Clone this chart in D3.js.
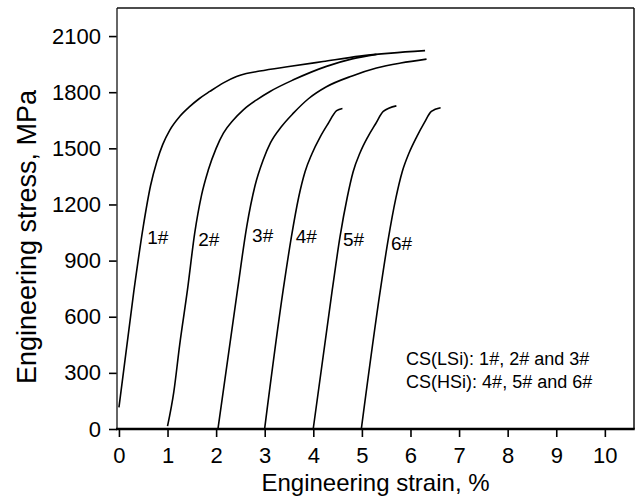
<!DOCTYPE html>
<html>
<head>
<meta charset="utf-8">
<script src="https://cdn.jsdelivr.net/npm/d3@7"></script>
<style>
  html, body { margin: 0; padding: 0; background: #fff; }
  svg { display: block; }
  text { font-family: "Liberation Sans", Arial, Helvetica, sans-serif; fill: #000; }
</style>
</head>
<body>
<svg id="chart" width="637" height="501"></svg>
<script>
// ---------------- data ----------------
const curveNames = ["1#", "2#", "3#", "4#", "5#", "6#"];
// [strain %, stress MPa]
const curve1 = [[0,116],[0.31,743],[0.50,1082],[0.65,1300],[0.78,1430],[0.90,1520],[1.05,1599],[1.25,1670],[1.46,1724],[1.65,1765],[1.87,1804],[2.15,1850],[2.42,1884],[2.62,1900],[2.90,1913],[3.50,1937],[4.20,1964],[4.96,1993],[5.60,2009],[6.30,2022]];
const curve2 = [[1.00,15],[1.13,200],[1.25,450],[1.41,743],[1.56,1048],[1.70,1250],[1.84,1385],[2.00,1500],[2.15,1581],[2.35,1650],[2.56,1706],[2.85,1762],[3.11,1804],[3.59,1866],[4.27,1938],[4.80,1978],[5.30,2002]];
const curve3 = [[2.04,5],[2.44,743],[2.63,1082],[2.80,1300],[2.97,1439],[3.12,1530],[3.35,1618],[3.59,1688],[3.90,1765],[4.27,1829],[4.80,1887],[5.30,1929],[5.80,1956],[6.33,1977]];
const curve4 = [[3.00,5],[3.38,743],[3.55,1028],[3.70,1240],[3.83,1375],[3.97,1470],[4.14,1560],[4.30,1630],[4.48,1701],[4.60,1713]];
const curve5 = [[4.00,4],[4.39,743],[4.55,1028],[4.70,1240],[4.82,1375],[4.96,1475],[5.12,1560],[5.28,1630],[5.44,1697],[5.71,1727]];
const curve6 = [[4.99,4],[5.38,743],[5.54,1011],[5.70,1235],[5.83,1375],[5.97,1475],[6.13,1563],[6.28,1635],[6.43,1697],[6.62,1717]];
const curves = [curve1, curve2, curve3, curve4, curve5, curve6];

// curve label anchors [strain, stress]
const labelAnchors = [[0.58,989],[1.63,978],[2.74,999],[3.64,994],[4.61,978],[5.60,957]];

const xTicks = [0,1,2,3,4,5,6,7,8,9,10];
const yTicks = [0,300,600,900,1200,1500,1800,2100];

const legendLines = ["CS(LSi): 1#, 2# and 3#", "CS(HSi): 4#, 5# and 6#"];
const legendAnchors = [[5.91,342],[5.91,219]];

const xTitle = "Engineering strain, %";
const yTitle = "Engineering stress, MPa";

// ---------------- layout ----------------
const L = 117, R = 634, T = 8, B = 429;
const svg = d3.select("#chart");

const x = d3.scaleLinear().domain([-0.04, 10.6]).range([L, R]);
const y = d3.scaleLinear().domain([0, 2250]).range([B, T]);

// axes
const xAxis = d3.axisBottom(x).tickValues(xTicks).tickSize(8).tickPadding(10).tickFormat(d3.format("d"));
const yAxis = d3.axisLeft(y).tickValues(yTicks).tickSize(8).tickPadding(8).tickFormat(d3.format("d"));

const gx = svg.append("g").attr("transform", `translate(0,${B})`).call(xAxis);
gx.select(".domain").remove();
gx.selectAll(".tick line").attr("stroke", "#000").attr("stroke-width", 1.6);
gx.selectAll(".tick text").style("font-size", "22px").attr("fill", "#000");

const gy = svg.append("g").attr("transform", `translate(${L},0)`).call(yAxis);
gy.select(".domain").remove();
gy.selectAll(".tick line").attr("stroke", "#000").attr("stroke-width", 1.6);
gy.selectAll(".tick text").style("font-size", "22px").attr("fill", "#000");

// frame
svg.append("line").attr("x1", L).attr("x2", L).attr("y1", T).attr("y2", B)
  .attr("stroke", "#333").attr("stroke-width", 1.5);
svg.append("line").attr("x1", L).attr("x2", R).attr("y1", T).attr("y2", T)
  .attr("stroke", "#111").attr("stroke-width", 1.5);
svg.append("line").attr("x1", R).attr("x2", R).attr("y1", T).attr("y2", B)
  .attr("stroke", "#111").attr("stroke-width", 1.5);
svg.append("line").attr("x1", L - 1).attr("x2", R + 0.75).attr("y1", B).attr("y2", B)
  .attr("stroke", "#000").attr("stroke-width", 2.5);

// curves
const line = d3.line().x(d => x(d[0])).y(d => y(d[1])).curve(d3.curveMonotoneX);
svg.append("g").selectAll("path").data(curves).join("path")
  .attr("d", line)
  .attr("fill", "none")
  .attr("stroke", "#000")
  .attr("stroke-width", 1.6)
  .attr("stroke-linejoin", "round");

// curve labels
svg.append("g").selectAll("text").data(curveNames).join("text")
  .attr("x", (d, i) => x(labelAnchors[i][0]))
  .attr("y", (d, i) => y(labelAnchors[i][1]))
  .style("font-size", "19px")
  .text(d => d);

// legend text
svg.append("g").selectAll("text").data(legendLines).join("text")
  .attr("x", (d, i) => x(legendAnchors[i][0]))
  .attr("y", (d, i) => y(legendAnchors[i][1]))
  .style("font-size", "18px")
  .text(d => d);

// titles
svg.append("text")
  .attr("x", (L + R) / 2).attr("y", 491)
  .attr("text-anchor", "middle")
  .style("font-size", "24px")
  .text(xTitle);

svg.append("text")
  .attr("transform", `translate(36,${237}) rotate(-90)`)
  .attr("text-anchor", "middle")
  .style("font-size", "27px")
  .text(yTitle);
</script>
</body>
</html>
